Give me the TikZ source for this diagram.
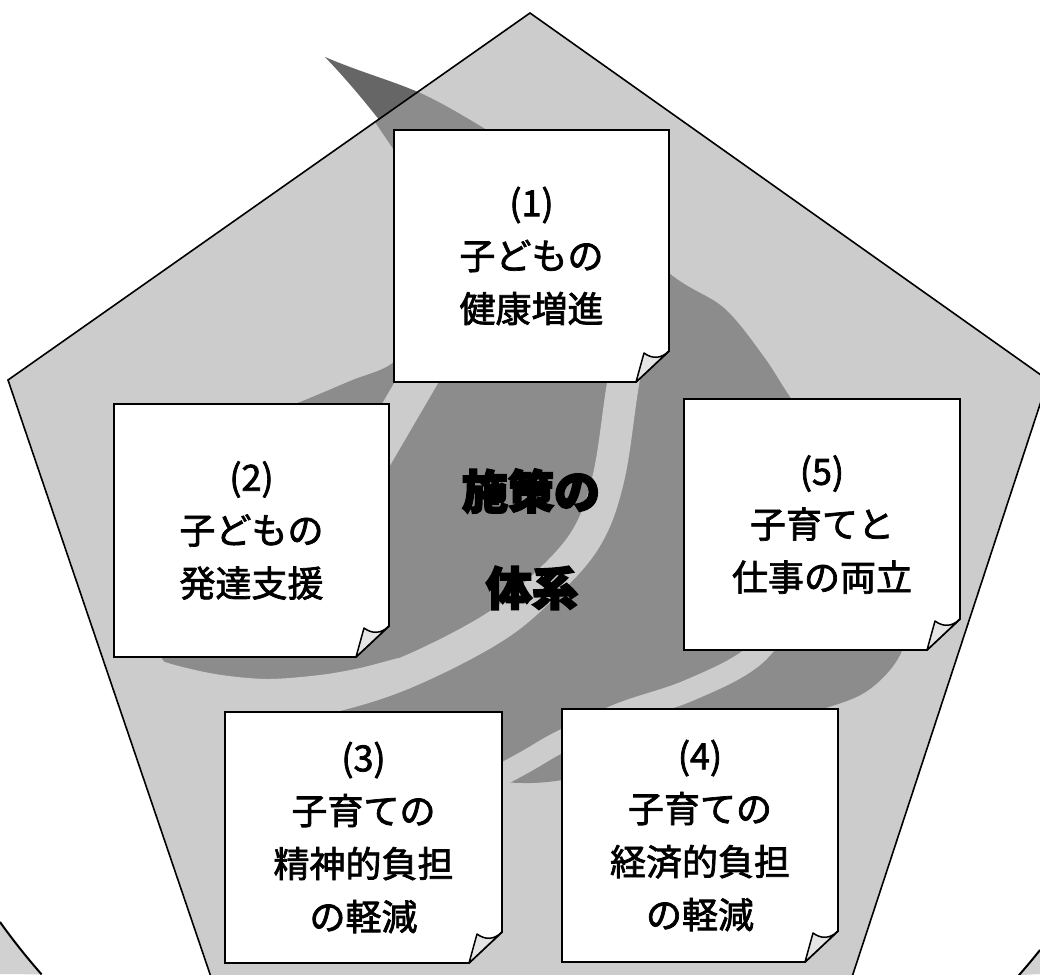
\documentclass[tikz,border=0pt]{standalone}
\usepackage{fontspec}
\newfontfamily\jp{Noto Sans CJK JP}[FakeBold=2]
\newfontfamily\jph{Noto Sans CJK JP}[FakeBold=4]
\definecolor{outerfill}{gray}{0.82}
\definecolor{pentfill}{gray}{0.80}
\definecolor{swirlmid}{gray}{0.55}
\definecolor{swirldark}{gray}{0.40}
\definecolor{flapfill}{gray}{0.90}
\tikzset{
  boxline/.style={draw=black, line width=1.8pt, fill=white, line join=miter},
  flapshape/.style={draw=black, line width=1.5pt, fill=flapfill, line join=round},
  boxtext/.style={align=center, font=\jp\fontsize{36}{53}\selectfont, inner sep=0pt, text=black},
  titletext/.style={font=\jph\bfseries\fontsize{46}{46}\selectfont, inner sep=0pt},
  stripe/.style={draw=pentfill, line width=30pt, line cap=butt},
  outline/.style={draw=black, line width=1.6pt, line join=miter},
}
\newcommand\notebox[6]{%
  \path[boxline] (#2,#3) -- (#4,#3) -- (#4,#5-31) -- (#4-33,#5) -- (#2,#5) -- cycle;
  \path[flapshape] (#4,#5-31) .. controls (#4-8,#5-23) and (#4-17,#5-23) .. (#4-25,#5-29) -- (#4-33,#5) -- cycle;
  \node[boxtext] (#1) at ({(#2+#4)/2},{(#3+#5)/2}) {#6};
}
\begin{document}
\begin{tikzpicture}[x=1pt,y=-1pt]
\useasboundingbox (0,0) rectangle (1040,974);
\clip (0,0) rectangle (1040,974);
\fill[white] (0,0) rectangle (1040,974);
% grey corners outside the big round outline
\fill[outerfill] (0,974) -- (0,922) arc[start angle=215.5, end angle=221.4, radius=650pt] -- cycle;
\draw[line width=2pt] (0,922) arc[start angle=215.5, end angle=221.4, radius=650pt];
\fill[outerfill] (1040,974) -- (1040,950) arc[start angle=321.5, end angle=318.6, radius=650pt] -- cycle;
\draw[line width=2pt] (1040,950) arc[start angle=321.5, end angle=318.6, radius=650pt];
% pentagon vertices
\coordinate (P1) at (530,13);
\coordinate (P2) at (1048,380);
\coordinate (P3) at (852,977);
\coordinate (P4) at (211,977);
\coordinate (P5) at (8,380);
% dark tail outside pentagon
\fill[swirldark] (325,57) .. controls (360,72) and (390,80) .. (418,92) -- (440,120) -- (400,150) -- (380,121) .. controls (362,98) and (345,78) .. (325,57) -- cycle;
% pentagon fill
\fill[pentfill] (P1) -- (P2) -- (P3) -- (P4) -- (P5) -- cycle;
\begin{scope}
  \clip (P1) -- (P2) -- (P3) -- (P4) -- (P5) -- cycle;
  \fill[swirlmid] plot[smooth cycle, tension=0.55] coordinates {
    (330,60) (416,91) (487,130) (580,190) (669,273) (724,308) (764,357)
    (792,400) (860,500) (905,610) (900,655) (864,693) (800,716) (700,748)
    (600,773) (530,783) (460,775) (380,745) (300,718) (240,705) (190,682)
    (163,660) (140,600) (150,510) (190,450) (240,425) (300,402) (350,381)
    (394,362) (425,320) (430,200) (394,150) (360,100)};
  % light gap under the bowl
  \fill[pentfill] plot[smooth] coordinates {(150,650) (165,662) (215,674) (267,679) (320,675) (360,668) (398,658)} -- (398,690) -- (150,722) -- cycle;
  % light stripes
  \draw[stripe, line width=38pt] (450,325) -- (345,505);
  \draw[stripe, line width=32pt] plot[smooth, tension=0.6] coordinates {(632,330) (622,390) (608,480) (585,540) (540,590) (490,630) (405,673) (330,697) (250,712) (170,722)};
  \draw[stripe, line width=22pt] plot[smooth, tension=0.6] coordinates {(795,600) (755,655) (690,690) (620,714) (560,742) (525,762) (470,792)};
\end{scope}
\draw[outline] (P1) -- (P2) -- (P3) -- (P4) -- (P5) -- cycle;
% boxes
\notebox{b1}{394}{130}{669}{382}{(1)\\子どもの\\健康増進}
\notebox{b2}{114}{404}{389}{657}{(2)\\子どもの\\発達支援}
\notebox{b5}{684}{399}{960}{650}{(5)\\子育てと\\仕事の両立}
\notebox{b3}{225}{712}{502}{963}{(3)\\子育ての\\精神的負担\\の軽減}
\notebox{b4}{562}{709}{838}{962}{(4)\\子育ての\\経済的負担\\の軽減}
% title
\node[titletext] (title1) at (531,491) {施策の};
\node[titletext] (title2) at (532,588) {体系};
\end{tikzpicture}
\end{document}
